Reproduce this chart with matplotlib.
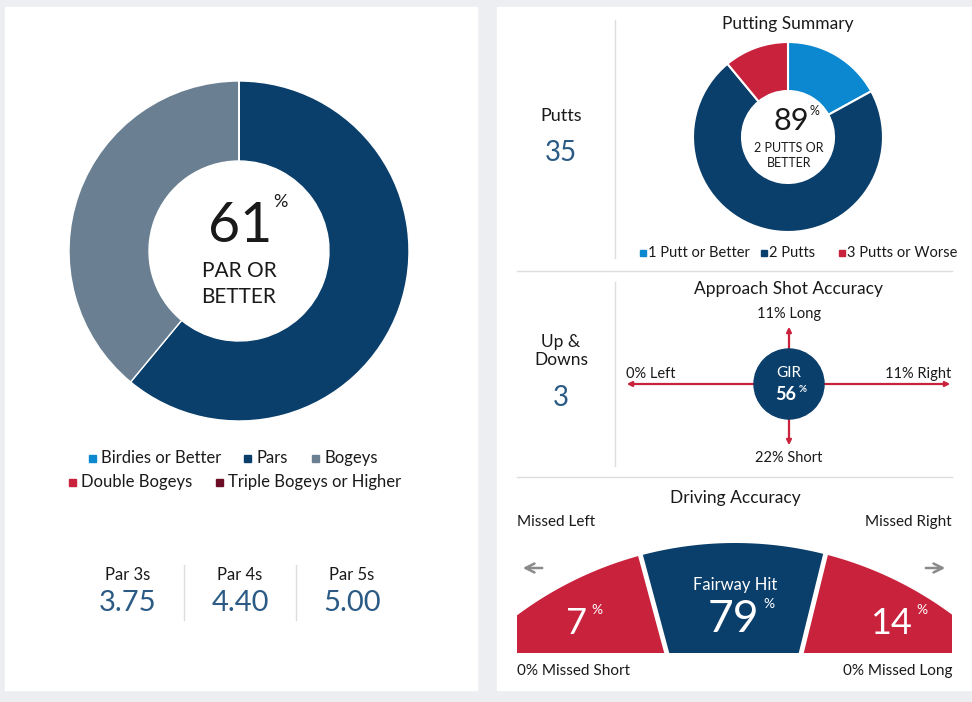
import matplotlib
matplotlib.use("Agg")
import matplotlib.pyplot as plt
import numpy as np
from matplotlib.patches import Rectangle, Circle, Polygon

plt.rcParams['font.family'] = ['Lato', 'DejaVu Sans']

score_labels = ["Birdies or Better", "Pars", "Bogeys", "Double Bogeys", "Triple Bogeys or Higher"]
score_values = [0, 61, 39, 0, 0]
score_colors = ["#0c88d1", "#0b3f6b", "#6a7f91", "#c8223c", "#6d0d25"]
par_labels = ["Par 3s", "Par 4s", "Par 5s"]
par_values = [3.75, 4.40, 5.00]
putt_labels = ["1 Putt or Better", "2 Putts", "3 Putts or Worse"]
putt_values = [17, 72, 11]
putt_colors = ["#0c88d1", "#0b3f6b", "#c8223c"]
putts_total = 35
up_downs = 3
approach = {"Long": 11, "Short": 22, "Left": 0, "Right": 11, "GIR": 56}
driving = {"Missed Left": 7, "Fairway Hit": 79, "Missed Right": 14, "Missed Short": 0, "Missed Long": 0}

W, H = 972, 702
NAVY = "#0b3f6b"; RED = "#c8223c"; TXT = "#1a1a1a"; VAL = "#2b5b85"
fig = plt.figure(figsize=(W/100, H/100), dpi=100)
fig.patch.set_facecolor("#eceef1")

bg = fig.add_axes([0, 0, 1, 1], zorder=0)
bg.set_xlim(0, W); bg.set_ylim(H, 0); bg.axis("off")
bg.add_patch(Rectangle((5, 7), 472, 683, color="white"))
bg.add_patch(Rectangle((497, 7), 475, 683, color="white"))

def pie_ax(cx, cy, r):
    ax = fig.add_axes([(cx - r)/W, 1 - (cy + r)/H, 2*r/W, 2*r/H], zorder=1)
    ax.axis("off")
    return ax

a1 = pie_ax(239, 251, 170)
a1.pie(score_values, colors=score_colors, startangle=90, counterclock=False, radius=1,
       wedgeprops=dict(width=1-90/170, linewidth=1, edgecolor="white"))
a1.set_xlim(-1, 1); a1.set_ylim(-1, 1)
a2 = pie_ax(788, 137, 95)
a2.pie(putt_values, colors=putt_colors, startangle=90, counterclock=False, radius=1,
       wedgeprops=dict(width=1-46/95, linewidth=1.5, edgecolor="white"))
a2.set_xlim(-1, 1); a2.set_ylim(-1, 1)

ov = fig.add_axes([0, 0, 1, 1], zorder=2)
ov.set_xlim(0, W); ov.set_ylim(H, 0); ov.axis("off"); ov.patch.set_alpha(0)

def t(x, y, s, size=12, color=TXT, ha="center", weight="normal"):
    ov.text(x, y, s, fontsize=size, color=color, ha=ha, va="center", weight=weight)

# main donut center
t(240, 226, f"{score_values[1]}", 40)
t(280, 202, "%", 13)
t(239, 271, "PAR OR", 15); t(239, 297, "BETTER", 15)
# main legend
pos = [(95, 458), (250, 458), (318, 458), (75, 482), (222, 482)]
for (x, y), lab, c in zip(pos, score_labels, score_colors):
    ov.add_patch(Rectangle((x-6, y-3.5), 7, 7, color=c))
    t(x+6, y, lab, 12, ha="left")
# par averages
for i, (lab, v) in enumerate(zip(par_labels, par_values)):
    x = 128 + i*112
    t(x, 575, lab, 12)
    t(x, 603, f"{v:.2f}", 21, color=VAL)
for x in (184, 296):
    ov.plot([x, x], [565, 620], color="#dddddd", lw=1)

# right panel lines
ov.plot([615, 615], [20, 258], color="#dddddd", lw=1)
ov.plot([615, 615], [282, 466], color="#dddddd", lw=1)
ov.plot([517, 952], [271, 271], color="#dddddd", lw=1)
ov.plot([517, 952], [477, 477], color="#dddddd", lw=1)

t(788, 24, "Putting Summary", 12.5)
t(561, 116, "Putts", 13)
t(561, 153, str(putts_total), 20, color=VAL)
t(791, 121, str(round(putt_values[0]+putt_values[1]-0.4)), 22)
t(814, 111, "%", 9)
t(789, 148, "2 PUTTS OR", 9); t(789, 163, "BETTER", 9)
for x, lab, c in zip([646, 767, 845], putt_labels, putt_colors):
    ov.add_patch(Rectangle((x-6, 250), 6, 6, color=c))
    t(x+2, 253, lab, 10.5, ha="left")

# approach
t(788, 289, "Approach Shot Accuracy", 12.5)
t(561, 351, "Up &\nDowns", 12.5)
t(561, 398, str(up_downs), 20, color=VAL)
cx, cy = 789, 384
ak = dict(arrowstyle="-|>", color=RED, lw=1.6, mutation_scale=7)
ov.annotate("", (624, cy), (cx, cy), arrowprops=ak)
ov.annotate("", (953, cy), (cx, cy), arrowprops=ak)
ov.annotate("", (cx, 324), (cx, cy), arrowprops=ak)
ov.annotate("", (cx, 448), (cx, cy), arrowprops=ak)
ov.add_patch(Circle((cx, cy), 35, color=NAVY, zorder=3))
ov.text(cx, 373, "GIR", fontsize=11, color="white", ha="center", va="center", zorder=4)
ov.text(cx-3, 395, f"{approach['GIR']}", fontsize=13, weight="bold", color="white", ha="center", va="center", zorder=4)
ov.text(cx+14, 389, "%", fontsize=7, weight="bold", color="white", ha="center", va="center", zorder=4)
t(789, 314, f"{approach['Long']}% Long", 10.5)
t(789, 458, f"{approach['Short']}% Short", 10.5)
t(626, 374, f"{approach['Left']}% Left", 10.5, ha="left")
t(951, 374, f"{approach['Right']}% Right", 10.5, ha="right")

# driving
t(735, 498, "Driving Accuracy", 12.5)
t(517, 522, "Missed Left", 11, ha="left")
t(952, 522, "Missed Right", 11, ha="right")
ga = dict(arrowstyle="->", color="#8a8a8a", lw=1.8, mutation_scale=16)
ov.annotate("", (520, 568), (545, 568), arrowprops=ga)
ov.annotate("", (948, 568), (923, 568), arrowprops=ga)
R = 364.5; ccx, ccy = 735, 543 + R
def arc_y(x):
    return ccy - np.sqrt(R**2 - (x - ccx)**2)
def region(x0top, x1top, x0bot, x1bot, color):
    xs = np.linspace(x0top, x1top, 60)
    pts = [(x, arc_y(x)) for x in xs] + [(x1bot, 653), (x0bot, 653)]
    ov.add_patch(Polygon(pts, closed=True, color=color, lw=0))
region(517, 640, 517, 667, RED)
region(640, 826, 667, 801, NAVY)
region(826, 952, 801, 952, RED)
ov.plot([640, 667], [arc_y(640)-2, 654], color="white", lw=3.5)
ov.plot([826, 801], [arc_y(826)-2, 654], color="white", lw=3.5)
t(735, 585, "Fairway Hit", 12, color="white")
t(733, 619, f"{driving['Fairway Hit']}", 32, color="white")
t(769, 604, "%", 10, color="white")
t(576, 624, f"{driving['Missed Left']}", 26, color="white")
t(597, 610, "%", 10, color="white")
t(891, 624, f"{driving['Missed Right']}", 26, color="white")
t(922, 610, "%", 10, color="white")
t(517, 671, f"{driving['Missed Short']}% Missed Short", 11, ha="left")
t(952, 671, f"{driving['Missed Long']}% Missed Long", 11, ha="right")

fig.savefig("out.png", dpi=100)
